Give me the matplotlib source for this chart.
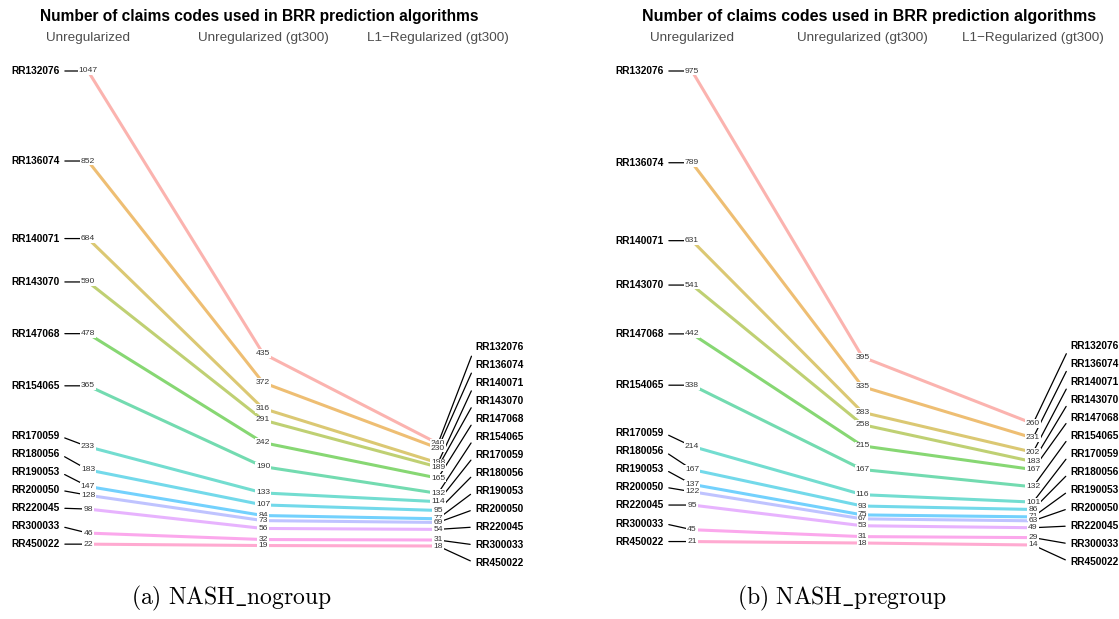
import matplotlib
matplotlib.use("Agg")
from matplotlib import pyplot as plt

plt.rcParams['font.family'] = ['Liberation Sans', 'DejaVu Sans']

# regions (one line per region), in plotting order
regions = ["RR132076", "RR136074", "RR140071", "RR143070", "RR147068", "RR154065",
           "RR170059", "RR180056", "RR190053", "RR200050", "RR220045", "RR300033",
           "RR450022"]
columns = ["Unregularized", "Unregularized (gt300)", "L1\u2212Regularized (gt300)"]

# code counts: unregularized, unregularized gt300, L1 gt300
nogroup_unreg = [1047, 852, 684, 590, 478, 365, 233, 183, 147, 128, 98, 46, 22]
nogroup_gt300 = [435, 372, 316, 291, 242, 190, 133, 107, 84, 73, 56, 32, 19]
nogroup_l1 = [240, 230, 198, 189, 165, 132, 114, 95, 77, 69, 54, 31, 18]

pregroup_unreg = [975, 789, 631, 541, 442, 338, 214, 167, 137, 122, 95, 45, 21]
pregroup_gt300 = [395, 335, 283, 258, 215, 167, 116, 93, 75, 67, 53, 31, 18]
pregroup_l1 = [260, 231, 202, 183, 167, 132, 101, 86, 71, 63, 49, 29, 14]

# ggplot hue palette for 13 groups
colors = ["#F8766D", "#E18A00", "#BE9C00", "#8CAB00", "#24B700", "#00BE70", "#00C1AB",
          "#00BBDA", "#00ACFC", "#8B93FF", "#D575FE", "#F962DD", "#FF65AC"]

W, H = 1119, 619
fig = plt.figure(figsize=(W / 100, H / 100), dpi=100)
fig.patch.set_facecolor("white")

TITLE = "Number of claims codes used in BRR prediction algorithms"
GAP = 18  # px between stacked region labels


def slopegraph(rect, series, caption, cap_x, title_size, title_dx):
    ax = fig.add_axes([rect[0] / W, (H - rect[3]) / H, (rect[2] - rect[0]) / W,
                       (rect[3] - rect[1]) / H])
    ax.axis("off")
    allv = [v for s in series for v in s]
    lo, hi = min(allv), max(allv)
    ax.set_xlim(0, 2)
    ax.set_ylim(lo, hi)
    ppu = (rect[3] - rect[1]) / (hi - lo)  # pixels per unit
    gap = GAP / ppu

    # slope lines
    for i in range(len(regions)):
        ax.plot([0, 1, 2], [s[i] for s in series], color=colors[i], alpha=0.55,
                lw=2.2, solid_capstyle="butt", zorder=1, clip_on=False)

    # left names, pushed up from the bottom so they do not overlap
    first = series[0]
    order = sorted(range(len(first)), key=lambda k: first[k])
    left_y = {}
    prev = None
    for k in order:
        y = first[k] if prev is None else max(first[k], prev + gap)
        left_y[k] = y
        prev = y
    for k in range(len(regions)):
        ax.annotate(regions[k], xy=(0, first[k]), xytext=(-28, left_y[k]),
                    textcoords=("offset pixels", "data"), ha="right", va="center",
                    fontsize=7.3, fontweight="bold", color="black", zorder=2,
                    annotation_clip=False,
                    arrowprops=dict(arrowstyle="-", color="black", lw=0.9,
                                    shrinkA=1.5, shrinkB=0, relpos=(1, 0.5)))

    # right names, evenly stacked
    last = series[2]
    base = min(last) - 17 / ppu
    n = len(regions)
    for k in range(n):
        y = base + (n - 1 - k) * gap
        ax.annotate(regions[k], xy=(2, last[k]), xytext=(37, y),
                    textcoords=("offset pixels", "data"), ha="left", va="center",
                    fontsize=7.3, fontweight="bold", color="black", zorder=2,
                    annotation_clip=False,
                    arrowprops=dict(arrowstyle="-", color="black", lw=0.9,
                                    shrinkA=1.5, shrinkB=0, relpos=(0, 0.5)))

    # value labels on white boxes
    for c, s in enumerate(series):
        for k, v in enumerate(s):
            ax.text(c, v, str(v), ha="center", va="center", fontsize=6.1,
                    color="#333333", zorder=3, clip_on=False,
                    bbox=dict(boxstyle="square,pad=0.1", fc="white", ec="none"))

    # column headers and title
    for c, name in enumerate(columns):
        ax.annotate(name, xy=(c, 1), xycoords=("data", "axes fraction"),
                    xytext=(0, 33), textcoords="offset pixels", ha="center",
                    va="center", fontsize=9.7, color="#4D4D4D")
    ax.annotate(TITLE, xy=(1, 1), xycoords=("data", "axes fraction"),
                xytext=(title_dx, 55), textcoords="offset pixels", ha="center",
                va="center", fontsize=title_size, fontweight="bold", color="black")

    fig.text(cap_x / W, 1 - 598 / H, caption, ha="center", va="center",
             fontsize=17, math_fontfamily="cm")


slopegraph((88, 71, 438, 546), [nogroup_unreg, nogroup_gt300, nogroup_l1],
           r"$\mathrm{(a)\ NASH\_nogroup}$", 231, 11.2, -4)
slopegraph((692, 71, 1033, 545), [pregroup_unreg, pregroup_gt300, pregroup_l1],
           r"$\mathrm{(b)\ NASH\_pregroup}$", 842, 11.5, 7)

fig.savefig("out.png", dpi=100, facecolor="white")
